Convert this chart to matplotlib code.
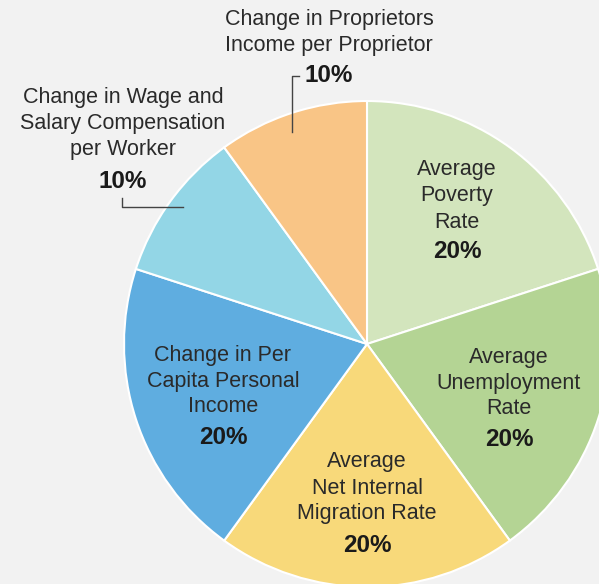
import matplotlib
matplotlib.use("Agg")
import matplotlib.pyplot as plt

plt.rcParams['font.family'] = ['Liberation Sans', 'DejaVu Sans']

categories = ["Average\nPoverty\nRate",
              "Average\nUnemployment\nRate",
              "Average\nNet Internal\nMigration Rate",
              "Change in Per\nCapita Personal\nIncome",
              "Change in Wage and\nSalary Compensation\nper Worker",
              "Change in Proprietors\nIncome per Proprietor"]
shares = [20, 20, 20, 20, 10, 10]
colors = ["#d3e5bd", "#b4d494", "#f8d97a", "#5fade0", "#93d6e6", "#f9c586"]

W, H = 599, 584
fig = plt.figure(figsize=(W / 100, H / 100), dpi=100, facecolor="#f2f2f2")
ax = fig.add_axes([0, 0, 1, 1])

# pie drawn in pixel coords (y flipped, so counterclock=True goes clockwise on screen)
cx, cy, r = 367, 344, 243
ax.pie(shares, colors=colors, startangle=-90, counterclock=True,
       center=(cx, cy), radius=r, frame=True,
       wedgeprops=dict(edgecolor="white", linewidth=1.5))
ax.set_xlim(0, W)
ax.set_ylim(H, 0)
ax.axis("off")

# label positions (text block centre x, first line y, percent y)
pos = [(457, 170, 252), (509, 357, 439), (367, 462, 545),
       (223, 355, 437), (123, 97, 182), (329, 19, 76)]
for (x, y0, yp), cat, s in zip(pos, categories, shares):
    lines = cat.split("\n")
    for i, ln in enumerate(lines):
        ax.text(x, y0 + i * 26, ln, ha="center", va="center",
                fontsize=15.5, color="#2a2a2a")
    ax.text(x, yp, f"{s}%", ha="center", va="center",
            fontsize=17.5, fontweight="bold", color="#1a1a1a")

# leader lines
ax.plot([292, 292, 299], [132, 76, 76], color="#444444", lw=1)
ax.plot([122, 122, 183], [198, 207, 207], color="#444444", lw=1)

fig.savefig("out.png", dpi=100, facecolor=fig.get_facecolor())
